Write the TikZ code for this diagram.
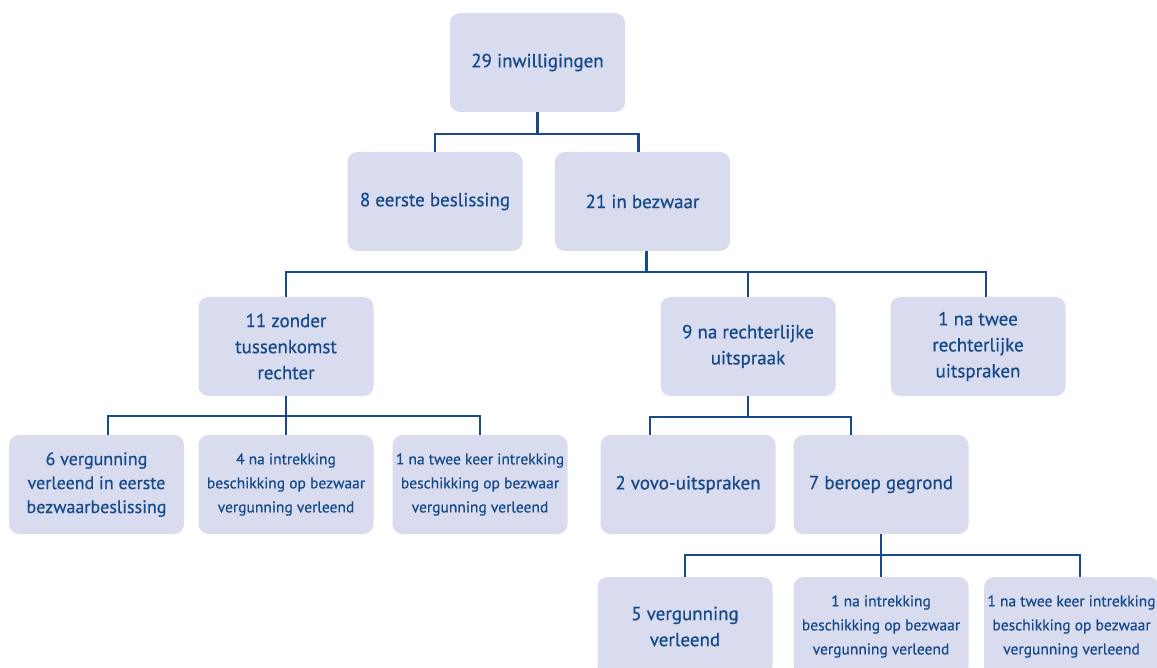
\documentclass[tikz,border=0pt]{standalone}
\usepackage{fontspec}
\setmainfont{PT Sans}[FakeBold=0.7]
\usetikzlibrary{positioning}
\definecolor{boxfill}{HTML}{D9DCEE}
\definecolor{navy}{HTML}{174A8A}

\begin{document}
\begin{tikzpicture}[node distance=2cm,on grid,
   box/.style={rectangle,rounded corners=10pt,fill=boxfill,text=navy,
      minimum width=175pt,minimum height=99pt,align=center,inner sep=2pt,
      font=\fontsize{19}{26}\selectfont},
   midbox/.style={box,font=\fontsize{18}{24}\selectfont},
   smallbox/.style={box,font=\fontsize{15.5}{24}\selectfont},
   link/.style={draw=navy,line width=2.2pt}]
   \useasboundingbox (0,0) rectangle (1157pt,-668pt);
   \node[box] (inw) at (537.5pt,-62.5pt) {29 inwilligingen};
   \node[box] (eerste) [below left=139pt and 102.5pt of inw] {8 eerste beslissing};
   \node[box] (bezwaar) [below right=139pt and 105pt of inw] {21 in bezwaar};
   \node[box] (zonder) [below left=145pt and 356.5pt of bezwaar] {11 zonder\\tussenkomst\\rechter};
   \node[box] (rechter) [below right=145pt and 105.5pt of bezwaar] {9 na rechterlijke\\uitspraak};
   \node[box] (tweeuit) [right=230pt of rechter] {1 na twee\\rechterlijke\\uitspraken};
   \node[midbox] (verg6) [below left=138pt and 189.5pt of zonder] {6 vergunning\\verleend in eerste\\bezwaarbeslissing};
   \node[smallbox] (intr4) [below=138pt of zonder] {4 na intrekking\\beschikking op bezwaar\\vergunning verleend};
   \node[smallbox] (keer1) [below right=138pt and 194pt of zonder] {1 na twee keer intrekking\\beschikking op bezwaar\\vergunning verleend};
   \node[box] (vovo) [below left=138pt and 60pt of rechter] {2 vovo-uitspraken};
   \node[box] (beroep) [below right=138pt and 133pt of rechter] {7 beroep gegrond};
   \node[box] (verg5) [below left=142pt and 196pt of beroep] {5 vergunning\\verleend};
   \node[smallbox] (intr1) [below=142pt of beroep] {1 na intrekking\\beschikking op bezwaar\\vergunning verleend};
   \node[smallbox] (keer2) [below right=142pt and 190.5pt of beroep] {1 na twee keer intrekking\\beschikking op bezwaar\\vergunning verleend};

   \draw[link] (inw.south) -- ++(0,-22pt) coordinate (j1)
      (eerste.north) |- (j1) -| ([xshift=-4pt]bezwaar.north);
   \draw[link] ([xshift=4pt]bezwaar.south) -- ++(0,-21pt) coordinate (j2)
      (zonder.north) |- (j2) -| ([xshift=8pt]tweeuit.north)
      (rechter.north) -- (rechter.north |- j2);
   \draw[link] (zonder.south) -- ++(0,-20pt) coordinate (j3)
      ([xshift=11.5pt]verg6.north) |- (j3) -| (keer1.north)
      (intr4.north) -- (intr4.north |- j3);
   \draw[link] (rechter.south) -- ++(0,-21pt) coordinate (j4)
      ([xshift=-38pt]vovo.north) |- (j4) -| ([xshift=-30pt]beroep.north);
   \draw[link] (beroep.south) -- ++(0,-21pt) coordinate (j5)
      (verg5.north) |- (j5) -| ([xshift=8.5pt]keer2.north)
      (intr1.north) -- (intr1.north |- j5);
\end{tikzpicture}
\end{document}
